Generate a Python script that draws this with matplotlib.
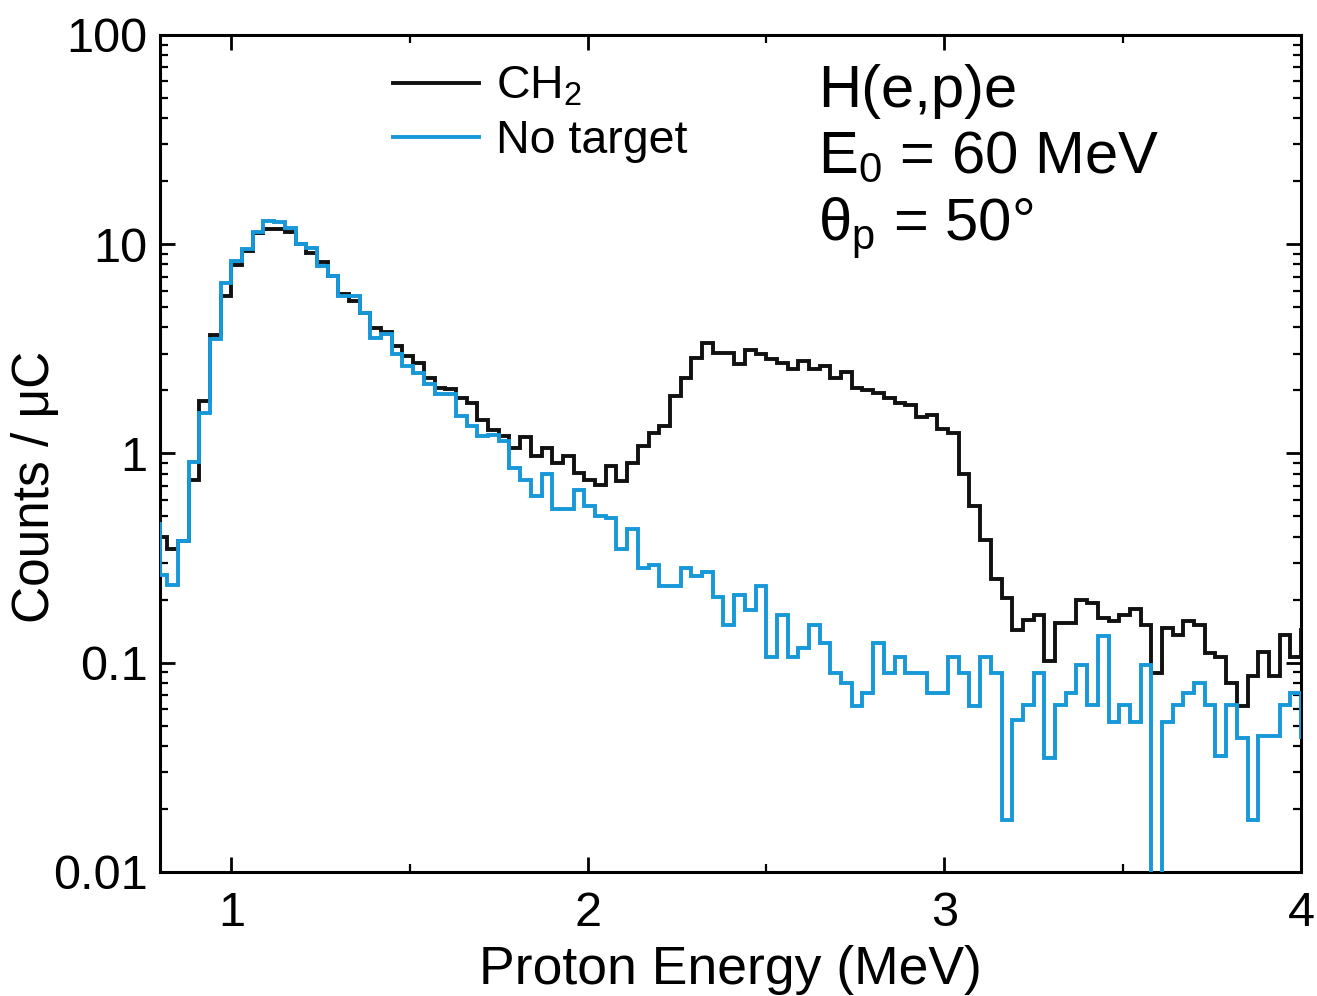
import numpy as np
import matplotlib
matplotlib.use("Agg")
import matplotlib.pyplot as plt
from matplotlib.ticker import FixedLocator, NullFormatter, LogLocator, MultipleLocator

plt.rcParams['font.family'] = ['Liberation Sans', 'DejaVu Sans']
plt.rcParams['mathtext.fontset'] = 'custom'
plt.rcParams['mathtext.rm'] = 'Liberation Sans'
plt.rcParams['mathtext.it'] = 'Liberation Sans:italic'

# ---- data: energy bins (MeV); first and last bins lie just outside the axis range
energy_edges = np.concatenate([[0.77, 0.80], np.round(0.82 + 0.03 * np.arange(107), 3), [4.03]])

counts_ch2 = [
    0.53,
    0.40, 0.35, 0.38, 0.75, 1.78, 3.67, 5.66, 7.96, 9.3, 11.3,
    11.8, 11.8, 11.4, 10.0, 9.1, 8.2, 7.06, 5.8, 5.35, 4.71,
    3.99, 3.79, 3.26, 2.92, 2.71, 2.30, 2.06, 2.04, 1.85, 1.75,
    1.45, 1.30, 1.21, 1.065, 1.20, 0.97, 1.065, 0.90, 0.97, 0.81,
    0.75, 0.71, 0.87, 0.737, 0.90, 1.08, 1.256, 1.35, 1.88, 2.30,
    2.87, 3.38, 3.03, 3.03, 2.67, 3.12, 2.98, 2.82, 2.70, 2.52,
    2.76, 2.52, 2.62, 2.30, 2.45, 2.06, 2.01, 1.94, 1.85, 1.75,
    1.70, 1.50, 1.52, 1.31, 1.25, 0.80, 0.56, 0.385, 0.25, 0.204,
    0.144, 0.16, 0.169, 0.102, 0.154, 0.154, 0.20, 0.193, 0.164, 0.158,
    0.169, 0.18, 0.152, 0.089, 0.146, 0.136, 0.158, 0.152, 0.111, 0.107,
    0.080, 0.062, 0.086, 0.113, 0.086, 0.136, 0.107,
    0.144,
]

counts_no_target = [
    0.46,
    0.264, 0.236, 0.38, 0.906, 1.566, 3.51, 6.56, 8.32, 9.46, 11.4,
    12.9, 12.7, 12.0, 10.0, 9.64, 7.87, 7.06, 5.66, 5.66, 4.71,
    3.58, 3.71, 2.98, 2.62, 2.43, 2.14, 1.93, 1.93, 1.51, 1.35,
    1.21, 1.22, 1.145, 0.854, 0.751, 0.625, 0.80, 0.54, 0.54, 0.672,
    0.56, 0.50, 0.49, 0.35, 0.436, 0.285, 0.294, 0.232, 0.232, 0.284,
    0.26, 0.27, 0.207, 0.152, 0.211, 0.179, 0.232, 0.107, 0.169, 0.107,
    0.118, 0.152, 0.124, 0.089, 0.080, 0.062, 0.072, 0.124, 0.089, 0.107,
    0.089, 0.089, 0.072, 0.072, 0.107, 0.089, 0.062, 0.107, 0.089, 0.0177,
    0.0534, 0.063, 0.089, 0.035, 0.063, 0.072, 0.098, 0.063, 0.134, 0.052,
    0.063, 0.052, 0.098, 0.005, 0.052, 0.063, 0.072, 0.080, 0.063, 0.036,
    0.063, 0.0436, 0.0177, 0.0445, 0.0445, 0.063, 0.072,
    0.044,
]

series_labels = ["CH$_2$", "No target"]
series_colors = ["#111111", "#1798d8"]
y_ticks = [0.01, 0.1, 1, 10, 100]
y_tick_labels = ["0.01", "0.1", "1", "10", "100"]
x_ticks = [1, 2, 3, 4]
x_tick_labels = ["1", "2", "3", "4"]

fig = plt.figure(figsize=(13.17, 9.96), dpi=100)
ax = fig.add_axes([0.1215, 0.1245, 0.8664, 0.8404])

for vals, lab, col in zip([counts_ch2, counts_no_target], series_labels, series_colors):
    ax.stairs(vals, energy_edges, baseline=None, color=col, linewidth=2.8,
              label=lab, zorder=3)

ax.set_yscale('log')
ax.set_xlim(0.8, 4.0)
ax.set_ylim(0.01, 100)

ax.yaxis.set_major_locator(FixedLocator(y_ticks))
ax.set_yticklabels(y_tick_labels)
ax.yaxis.set_minor_locator(LogLocator(base=10, subs=np.arange(2, 10)))
ax.yaxis.set_minor_formatter(NullFormatter())
ax.xaxis.set_major_locator(FixedLocator(x_ticks))
ax.set_xticklabels(x_tick_labels)
ax.xaxis.set_minor_locator(MultipleLocator(0.5))

for sp in ax.spines.values():
    sp.set_linewidth(2.2)
ax.tick_params(which='major', direction='in', length=11, width=2.0,
               top=True, right=True, labelsize=35, pad=9)
ax.tick_params(axis='x', which='major', pad=14)
ax.tick_params(which='minor', direction='in', length=6, width=1.6,
               top=True, right=True)

ax.set_xlabel("Proton Energy (MeV)", fontsize=38.5, labelpad=6)
ax.set_ylabel("Counts / μC", fontsize=37)
ax.yaxis.set_label_coords(-0.088, 0.46)

ax.legend(loc='upper left', bbox_to_anchor=(0.184, 0.992), frameon=False,
          fontsize=33.5, handlelength=1.85, handletextpad=0.36, labelspacing=0.22,
          borderaxespad=0.1)

ax.text(0.5767, 0.914, "H(e,p)e", transform=ax.transAxes, fontsize=43, va='baseline')
ax.text(0.5767, 0.835, "E$_0$ = 60 MeV", transform=ax.transAxes, fontsize=43, va='baseline')
ax.text(0.5767, 0.754, "θ$_\\mathrm{p}$ = 50°", transform=ax.transAxes, fontsize=43, va='baseline')

fig.savefig("out.png", dpi=100)
